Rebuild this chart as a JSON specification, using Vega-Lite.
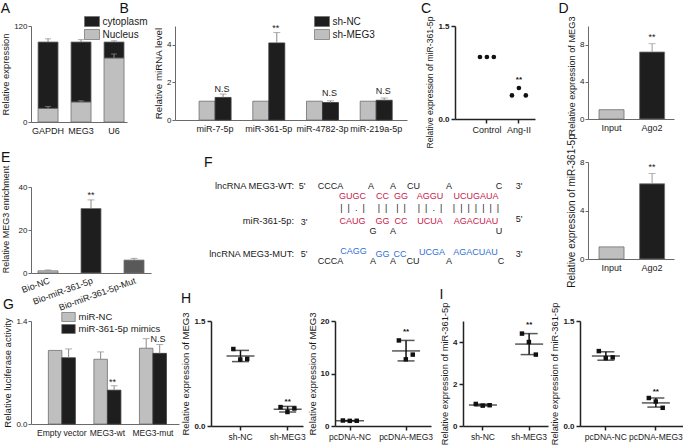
{
"$schema": "https://vega.github.io/schema/vega-lite/v6.json",
"padding": {"left": 0, "top": 2, "right": 0, "bottom": 0},
"config": {
 "font": "Liberation Sans",
 "view": {"stroke": null},
 "axis": {"grid": false, "domainColor": "#6a6a6a", "tickColor": "#6a6a6a", "labelColor": "#1a1a1a", "titleColor": "#1a1a1a", "labelFontSize": 8, "titleFontSize": 10, "titleFontWeight": "normal", "tickSize": 3, "labelPadding": 1, "titlePadding": 3, "labelOverlap": false, "labelFlush": false},
 "axisX": {"labelAngle": 0, "labelFontSize": 9},
 "title": {"anchor": "start", "fontSize": 14, "fontWeight": "normal", "color": "#111111", "frame": "bounds", "offset": 0},
 "legend": {"labelFontSize": 10, "labelColor": "#1a1a1a", "rowPadding": 0, "labelOffset": 5, "symbolStrokeColor": "#6e6e6e", "symbolStrokeWidth": 0.7, "padding": 0, "symbolType": "M-1.5,-1H1.5V1H-1.5Z", "symbolSize": 100}
},
"resolve": {"scale": {"color": "independent"}, "legend": {"color": "independent"}},
"vconcat": [
 {
  "resolve": {"scale": {"color": "independent"}, "legend": {"color": "independent"}},
  "hconcat": [
   {
    "resolve": {"scale": {"color": "independent"}, "legend": {"color": "independent"}},
    "vconcat": [
     {
      "bounds": "flush",
      "spacing": 48,
      "resolve": {"scale": {"color": "independent"}, "legend": {"color": "independent"}},
      "hconcat": [
       {
        "title": {"text": "A", "offset": 0},
        "width": 96, "height": 96,
        "layer": [
         {
          "data": {"values": [
           {"g": "GAPDH", "part": "Nucleus", "lo": 0, "hi": 17},
           {"g": "GAPDH", "part": "cytoplasm", "lo": 17, "hi": 100},
           {"g": "MEG3", "part": "Nucleus", "lo": 0, "hi": 25},
           {"g": "MEG3", "part": "cytoplasm", "lo": 25, "hi": 100},
           {"g": "U6", "part": "Nucleus", "lo": 0, "hi": 80},
           {"g": "U6", "part": "cytoplasm", "lo": 80, "hi": 100}
          ]},
          "mark": {"type": "bar", "width": 20, "stroke": "#6e6e6e", "strokeWidth": 0.8},
          "encoding": {
           "x": {"field": "g", "type": "nominal", "sort": ["GAPDH", "MEG3", "U6"], "scale": {"paddingInner": 0.4, "paddingOuter": 0.155, "align": 0.7}, "axis": {"title": null, "ticks": false, "labelPadding": 4, "labelOverlap": false}},
           "y": {"field": "lo", "type": "quantitative", "scale": {"domain": [0, 120], "nice": false}, "axis": {"title": "Relative expression", "titleFontSize": 9.4, "values": [0, 20, 40, 60, 80, 100, 120], "labelOverlap": false}},
           "y2": {"field": "hi"},
           "color": {"field": "part", "type": "nominal", "scale": {"domain": ["cytoplasm", "Nucleus"], "range": ["#1e1e1e", "#bfbfbf"]}, "legend": {"title": null, "orient": "none", "legendX": 55.5, "legendY": -10}}
          }
         },
         {
          "data": {"values": [
           {"g": "GAPDH", "v": 100, "e": 104}, {"g": "GAPDH", "v": 17, "e": 19.5},
           {"g": "MEG3", "v": 100, "e": 103}, {"g": "MEG3", "v": 25, "e": 26.5},
           {"g": "U6", "v": 100, "e": 101.5}, {"g": "U6", "v": 80, "e": 85}
          ]},
          "layer": [
           {"mark": {"type": "rule", "color": "#8a8a8a"}, "encoding": {"x": {"field": "g", "type": "nominal", "sort": ["GAPDH", "MEG3", "U6"]}, "y": {"field": "v", "type": "quantitative"}, "y2": {"field": "e"}}},
           {"mark": {"type": "tick", "color": "#8a8a8a", "size": 6, "thickness": 1}, "encoding": {"x": {"field": "g", "type": "nominal", "sort": ["GAPDH", "MEG3", "U6"]}, "y": {"field": "e", "type": "quantitative"}}}
          ]
         }
        ]
       },
       {
        "title": {"text": "B", "dx": -34, "offset": 0},
        "width": 232, "height": 94,
        "layer": [
         {
          "data": {"values": [
           {"m": "miR-7-5p", "grp": "sh-MEG3", "v": 1},
           {"m": "miR-361-5p", "grp": "sh-MEG3", "v": 1},
           {"m": "miR-4782-3p", "grp": "sh-MEG3", "v": 1},
           {"m": "miR-219a-5p", "grp": "sh-MEG3", "v": 1}
          ]},
          "mark": {"type": "bar", "width": 16, "xOffset": -8, "stroke": "#6e6e6e", "strokeWidth": 0.8},
          "encoding": {
           "x": {"field": "m", "type": "nominal", "sort": ["miR-7-5p", "miR-361-5p", "miR-4782-3p", "miR-219a-5p"], "scale": {"paddingInner": 0.4, "paddingOuter": 0.36, "align": 0.62}, "axis": {"title": null, "ticks": false, "labelPadding": 4, "labelOverlap": false}},
           "y": {"field": "v", "type": "quantitative", "scale": {"domain": [0, 5], "nice": false}, "axis": {"title": "Relative miRNA level", "titleFontSize": 9.8, "values": [0, 1, 2, 3, 4, 5], "labelOverlap": false}},
           "color": {"field": "grp", "type": "nominal", "scale": {"domain": ["sh-NC", "sh-MEG3"], "range": ["#1e1e1e", "#bfbfbf"]}, "legend": {"title": null, "orient": "none", "legendX": 141.5, "legendY": -10}}
          }
         },
         {
          "data": {"values": [
           {"m": "miR-7-5p", "grp": "sh-NC", "v": 1.2},
           {"m": "miR-361-5p", "grp": "sh-NC", "v": 4.1},
           {"m": "miR-4782-3p", "grp": "sh-NC", "v": 0.93},
           {"m": "miR-219a-5p", "grp": "sh-NC", "v": 1.05}
          ]},
          "mark": {"type": "bar", "width": 16, "xOffset": 8, "stroke": "#3a3a3a", "strokeWidth": 0.8},
          "encoding": {
           "x": {"field": "m", "type": "nominal", "sort": ["miR-7-5p", "miR-361-5p", "miR-4782-3p", "miR-219a-5p"]},
           "y": {"field": "v", "type": "quantitative"},
           "color": {"field": "grp", "type": "nominal"}
          }
         },
         {
          "data": {"values": [
           {"m": "miR-7-5p", "v": 1.2, "e": 1.38},
           {"m": "miR-361-5p", "v": 4.1, "e": 4.65},
           {"m": "miR-4782-3p", "v": 0.93, "e": 1.02},
           {"m": "miR-219a-5p", "v": 1.05, "e": 1.17}
          ]},
          "layer": [
           {"mark": {"type": "rule", "color": "#8a8a8a", "xOffset": 8}, "encoding": {"x": {"field": "m", "type": "nominal", "sort": ["miR-7-5p", "miR-361-5p", "miR-4782-3p", "miR-219a-5p"]}, "y": {"field": "v", "type": "quantitative"}, "y2": {"field": "e"}}},
           {"mark": {"type": "tick", "color": "#8a8a8a", "size": 7, "thickness": 1, "xOffset": 8}, "encoding": {"x": {"field": "m", "type": "nominal", "sort": ["miR-7-5p", "miR-361-5p", "miR-4782-3p", "miR-219a-5p"]}, "y": {"field": "e", "type": "quantitative"}}}
          ]
         },
         {
          "data": {"values": [
           {"m": "miR-7-5p", "y": 1.65, "t": "N.S"},
           {"m": "miR-361-5p", "y": 4.9, "t": "**"},
           {"m": "miR-4782-3p", "y": 1.42, "t": "N.S"},
           {"m": "miR-219a-5p", "y": 1.55, "t": "N.S"}
          ]},
          "mark": {"type": "text", "fontSize": 9, "color": "#1a1a1a", "xOffset": 7},
          "encoding": {"x": {"field": "m", "type": "nominal", "sort": ["miR-7-5p", "miR-361-5p", "miR-4782-3p", "miR-219a-5p"]}, "y": {"field": "y", "type": "quantitative"}, "text": {"field": "t"}}
         }
        ]
       },
       {
        "title": {"text": "C", "dx": -5, "offset": 0},
        "width": 80, "height": 93,
        "layer": [
         {
          "data": {"values": [
           {"g": "Control", "r": "1", "v": 1}, {"g": "Control", "r": "2", "v": 1}, {"g": "Control", "r": "3", "v": 1},
           {"g": "Ang-II", "r": "1", "v": 0.38}, {"g": "Ang-II", "r": "2", "v": 0.5}, {"g": "Ang-II", "r": "3", "v": 0.38}
          ]},
          "mark": {"type": "point", "filled": true, "size": 22, "color": "#111111", "opacity": 1},
          "encoding": {
           "x": {"field": "g", "type": "nominal", "sort": ["Control", "Ang-II"], "scale": {"paddingInner": 0.35, "paddingOuter": 0.425, "align": 0.79}, "axis": {"title": null, "ticks": true, "tickSize": 4, "tickWidth": 1.5, "domainWidth": 1.5, "domainColor": "#222222", "tickColor": "#222222", "labelPadding": 2, "labelFontSize": 9, "labelOverlap": false}},
           "xOffset": {"field": "r", "type": "nominal"},
           "y": {"field": "v", "type": "quantitative", "scale": {"domain": [0, 1.5], "nice": false}, "axis": {"title": "Relative expression of miR-361-5p", "titleFontSize": 8.6, "titleY": 56, "values": [0, 0.5, 1, 1.5], "format": ".1f", "labelFontWeight": "bold", "domainWidth": 1.5, "tickWidth": 1.5, "tickSize": 4, "domainColor": "#222222", "tickColor": "#222222", "labelPadding": 2, "labelOverlap": false}}
          }
         },
         {
          "data": {"values": [{"g": "Ang-II", "y": 0.63, "t": "**"}]},
          "mark": {"type": "text", "fontSize": 8, "fontWeight": "bold", "color": "#111111"},
          "encoding": {"x": {"field": "g", "type": "nominal", "sort": ["Control", "Ang-II"]}, "y": {"field": "y", "type": "quantitative"}, "text": {"field": "t"}}
         }
        ]
       }
      ]
     },
     {
      "bounds": "flush",
      "spacing": 50,
      "resolve": {"scale": {"color": "independent"}, "legend": {"color": "independent"}},
      "hconcat": [
       {
        "title": {"text": "E", "offset": 0},
        "width": 120, "height": 86,
        "layer": [
         {
          "data": {"values": [
           {"g": "Bio-NC", "v": 1}, {"g": "Bio-miR-361-5p", "v": 30}, {"g": "Bio-miR-361-5p-Mut", "v": 6}
          ]},
          "mark": {"type": "bar", "width": 20, "stroke": "#6e6e6e", "strokeWidth": 0.8},
          "encoding": {
           "x": {"field": "g", "type": "nominal", "sort": ["Bio-NC", "Bio-miR-361-5p", "Bio-miR-361-5p-Mut"], "scale": {"paddingInner": 0.53, "paddingOuter": 0.16, "align": 0.5}, "axis": {"title": null, "ticks": false, "labelAngle": -20, "labelPadding": 3, "labelOverlap": false}},
           "y": {"field": "v", "type": "quantitative", "scale": {"domain": [0, 40], "nice": false}, "axis": {"title": "Relative MEG3 enrichment", "titleFontSize": 9, "titleY": 32, "titlePadding": 8, "values": [0, 10, 20, 30, 40], "labelOverlap": false}},
           "color": {"field": "g", "type": "nominal", "scale": {"domain": ["Bio-NC", "Bio-miR-361-5p", "Bio-miR-361-5p-Mut"], "range": ["#bfbfbf", "#1e1e1e", "#595959"]}, "legend": null}
          }
         },
         {
          "data": {"values": [
           {"g": "Bio-NC", "v": 1, "e": 1.4}, {"g": "Bio-miR-361-5p", "v": 30, "e": 34}, {"g": "Bio-miR-361-5p-Mut", "v": 6, "e": 6.8}
          ]},
          "layer": [
           {"mark": {"type": "rule", "color": "#8a8a8a"}, "encoding": {"x": {"field": "g", "type": "nominal", "sort": ["Bio-NC", "Bio-miR-361-5p", "Bio-miR-361-5p-Mut"]}, "y": {"field": "v", "type": "quantitative"}, "y2": {"field": "e"}}},
           {"mark": {"type": "tick", "color": "#8a8a8a", "size": 7, "thickness": 1}, "encoding": {"x": {"field": "g", "type": "nominal", "sort": ["Bio-NC", "Bio-miR-361-5p", "Bio-miR-361-5p-Mut"]}, "y": {"field": "e", "type": "quantitative"}}}
          ]
         },
         {
          "data": {"values": [{"g": "Bio-miR-361-5p", "y": 36.5, "t": "**"}]},
          "mark": {"type": "text", "fontSize": 9, "color": "#1a1a1a"},
          "encoding": {"x": {"field": "g", "type": "nominal", "sort": ["Bio-NC", "Bio-miR-361-5p", "Bio-miR-361-5p-Mut"]}, "y": {"field": "y", "type": "quantitative"}, "text": {"field": "t"}}
         }
        ]
       },
       {
        "title": {"text": "F", "frame": "group", "dx": 3, "offset": 12},
        "width": 330, "height": 86,
        "layer": [
         {
          "data": {"values": [
           {"t": "lncRNA MEG3-WT:", "x": 93, "y": 9},
           {"t": "miR-361-5p:", "x": 93, "y": 44},
           {"t": "lncRNA MEG3-MUT:", "x": 93, "y": 77}
          ]},
          "mark": {"type": "text", "align": "right", "baseline": "middle", "fontSize": 9.3, "color": "#1a1a1a"},
          "encoding": {
           "x": {"field": "x", "type": "quantitative", "scale": {"domain": [0, 330], "nice": false, "zero": false}, "axis": null},
           "y": {"field": "y", "type": "quantitative", "scale": {"domain": [10, 96], "nice": false, "zero": false, "reverse": true}, "axis": null},
           "text": {"field": "t"}
          }
         },
         {
          "data": {"values": [
           {"t": "5'", "x": 101, "y": 9, "c": "k"},
           {"t": "CCCA", "x": 129.5, "y": 9, "c": "k"},
           {"t": "A", "x": 170, "y": 9, "c": "k"},
           {"t": "A", "x": 192, "y": 9, "c": "k"},
           {"t": "CU", "x": 212.5, "y": 9, "c": "k"},
           {"t": "A", "x": 248, "y": 9, "c": "k"},
           {"t": "C", "x": 298, "y": 9, "c": "k"},
           {"t": "3'", "x": 318, "y": 9, "c": "k"},
           {"t": "GUGC", "x": 151.5, "y": 19, "c": "r"},
           {"t": "CC", "x": 181.5, "y": 19, "c": "r"},
           {"t": "GG", "x": 200, "y": 19, "c": "r"},
           {"t": "AGGU", "x": 229, "y": 19, "c": "r"},
           {"t": "UCUGAUA", "x": 275, "y": 19, "c": "r"},
           {"t": "|\u00a0\u00a0|\u00a0\u00a0.\u00a0\u00a0|", "x": 151.5, "y": 31, "c": "k"},
           {"t": "|\u00a0\u00a0|", "x": 181.5, "y": 31, "c": "k"},
           {"t": "|\u00a0\u00a0|", "x": 200, "y": 31, "c": "k"},
           {"t": "|\u00a0\u00a0|\u00a0\u00a0.\u00a0\u00a0|", "x": 229, "y": 31, "c": "k"},
           {"t": "|\u00a0\u00a0|\u00a0\u00a0|\u00a0\u00a0|\u00a0\u00a0|\u00a0\u00a0|\u00a0\u00a0|", "x": 275, "y": 31, "c": "k"},
           {"t": "3'", "x": 103, "y": 45, "c": "k"},
           {"t": "CAUG", "x": 151.5, "y": 44, "c": "r"},
           {"t": "GG", "x": 181.5, "y": 44, "c": "r"},
           {"t": "CC", "x": 200, "y": 44, "c": "r"},
           {"t": "UCUA", "x": 229, "y": 44, "c": "r"},
           {"t": "AGACUAU", "x": 275, "y": 44, "c": "r"},
           {"t": "5'", "x": 318, "y": 42, "c": "k"},
           {"t": "G", "x": 172, "y": 54, "c": "k"},
           {"t": "A", "x": 192, "y": 54, "c": "k"},
           {"t": "U", "x": 298, "y": 54, "c": "k"},
           {"t": "5'", "x": 103, "y": 77, "c": "k"},
           {"t": "CAGG", "x": 152.5, "y": 74, "c": "b"},
           {"t": "GG", "x": 181.5, "y": 77, "c": "b"},
           {"t": "CC", "x": 199, "y": 77, "c": "b"},
           {"t": "UCGA", "x": 231, "y": 75, "c": "b"},
           {"t": "AGACUAU", "x": 274.5, "y": 75, "c": "b"},
           {"t": "3'", "x": 318, "y": 77, "c": "k"},
           {"t": "CCCA", "x": 129.5, "y": 84, "c": "k"},
           {"t": "A", "x": 172, "y": 84, "c": "k"},
           {"t": "A", "x": 192, "y": 84, "c": "k"},
           {"t": "CU", "x": 212, "y": 84, "c": "k"},
           {"t": "A", "x": 248, "y": 84, "c": "k"},
           {"t": "C", "x": 300, "y": 84, "c": "k"}
          ]},
          "mark": {"type": "text", "align": "center", "baseline": "middle", "fontSize": 9},
          "encoding": {
           "x": {"field": "x", "type": "quantitative", "scale": {"domain": [0, 330], "nice": false, "zero": false}, "axis": null},
           "y": {"field": "y", "type": "quantitative", "scale": {"domain": [10, 96], "nice": false, "zero": false, "reverse": true}, "axis": null},
           "text": {"field": "t"},
           "color": {"field": "c", "type": "nominal", "scale": {"domain": ["k", "r", "b"], "range": ["#1a1a1a", "#c8194b", "#2f6fd6"]}, "legend": null}
          }
         }
        ]
       }
      ]
     }
    ],
    "spacing": 3
   },
   {
    "bounds": "flush",
    "spacing": 43,
    "resolve": {"scale": {"color": "independent"}, "legend": {"color": "independent"}},
    "vconcat": [
     {
      "title": {"text": "D", "dx": -9, "offset": 0},
      "width": 86, "height": 93,
      "layer": [
       {
        "data": {"values": [{"g": "Input", "v": 1}, {"g": "Ago2", "v": 7.2}]},
        "mark": {"type": "bar", "width": 25, "stroke": "#6e6e6e", "strokeWidth": 0.8},
        "encoding": {
         "x": {"field": "g", "type": "nominal", "sort": ["Input", "Ago2"], "scale": {"paddingInner": 0.38, "paddingOuter": 0.25, "align": 0.54}, "axis": {"title": null, "ticks": false, "labelPadding": 4, "labelOverlap": false}},
         "y": {"field": "v", "type": "quantitative", "scale": {"domain": [0, 10], "nice": false}, "axis": {"title": "Relative expression of MEG3", "titleFontSize": 9.2, "titleY": 49.5, "values": [0, 2, 4, 6, 8, 10], "labelOverlap": false}},
         "color": {"field": "g", "type": "nominal", "scale": {"domain": ["Input", "Ago2"], "range": ["#bfbfbf", "#1e1e1e"]}, "legend": null}
        }
       },
       {
        "data": {"values": [{"g": "Ago2", "v": 7.2, "e": 8.1}]},
        "layer": [
         {"mark": {"type": "rule", "color": "#9a9a9a"}, "encoding": {"x": {"field": "g", "type": "nominal", "sort": ["Input", "Ago2"]}, "y": {"field": "v", "type": "quantitative"}, "y2": {"field": "e"}}},
         {"mark": {"type": "tick", "color": "#9a9a9a", "size": 7, "thickness": 1}, "encoding": {"x": {"field": "g", "type": "nominal", "sort": ["Input", "Ago2"]}, "y": {"field": "e", "type": "quantitative"}}}
        ]
       },
       {
        "data": {"values": [{"g": "Ago2", "y": 8.8, "t": "**"}]},
        "mark": {"type": "text", "fontSize": 9, "color": "#1a1a1a"},
        "encoding": {"x": {"field": "g", "type": "nominal", "sort": ["Input", "Ago2"]}, "y": {"field": "y", "type": "quantitative"}, "text": {"field": "t"}}
       }
      ]
     },
     {
      "width": 86, "height": 97,
      "layer": [
       {
        "data": {"values": [{"g": "Input", "v": 1}, {"g": "Ago2", "v": 6.2}]},
        "mark": {"type": "bar", "width": 25, "stroke": "#6e6e6e", "strokeWidth": 0.8},
        "encoding": {
         "x": {"field": "g", "type": "nominal", "sort": ["Input", "Ago2"], "scale": {"paddingInner": 0.38, "paddingOuter": 0.25, "align": 0.54}, "axis": {"title": null, "ticks": false, "labelPadding": 4, "labelOverlap": false}},
         "y": {"field": "v", "type": "quantitative", "scale": {"domain": [0, 8], "nice": false}, "axis": {"title": "Relative expression of miR-361-5p", "titleFontSize": 10, "values": [0, 2, 4, 6, 8], "labelOverlap": false}},
         "color": {"field": "g", "type": "nominal", "scale": {"domain": ["Input", "Ago2"], "range": ["#bfbfbf", "#1e1e1e"]}, "legend": null}
        }
       },
       {
        "data": {"values": [{"g": "Ago2", "v": 6.2, "e": 7.05}]},
        "layer": [
         {"mark": {"type": "rule", "color": "#9a9a9a"}, "encoding": {"x": {"field": "g", "type": "nominal", "sort": ["Input", "Ago2"]}, "y": {"field": "v", "type": "quantitative"}, "y2": {"field": "e"}}},
         {"mark": {"type": "tick", "color": "#9a9a9a", "size": 7, "thickness": 1}, "encoding": {"x": {"field": "g", "type": "nominal", "sort": ["Input", "Ago2"]}, "y": {"field": "e", "type": "quantitative"}}}
        ]
       },
       {
        "data": {"values": [{"g": "Ago2", "y": 7.6, "t": "**"}]},
        "mark": {"type": "text", "fontSize": 9, "color": "#1a1a1a"},
        "encoding": {"x": {"field": "g", "type": "nominal", "sort": ["Input", "Ago2"]}, "y": {"field": "y", "type": "quantitative"}, "text": {"field": "t"}}
       }
      ]
     }
    ]
   }
  ],
  "spacing": 23
 },
 {
  "bounds": "flush",
  "spacing": 32,
  "resolve": {"scale": {"color": "independent"}, "legend": {"color": "independent"}},
  "hconcat": [
   {
    "title": {"text": "G", "offset": 0},
    "width": 148, "height": 103,
    "layer": [
     {
      "data": {"values": [
       {"c": "Empty vector", "grp": "miR-NC", "v": 1.0},
       {"c": "MEG3-wt", "grp": "miR-NC", "v": 0.88},
       {"c": "MEG3-mut", "grp": "miR-NC", "v": 1.03}
      ]},
      "mark": {"type": "bar", "width": 13.5, "xOffset": -6.75, "stroke": "#6e6e6e", "strokeWidth": 0.8},
      "encoding": {
       "x": {"field": "c", "type": "nominal", "sort": ["Empty vector", "MEG3-wt", "MEG3-mut"], "scale": {"paddingInner": 0.41, "paddingOuter": 0.33, "align": 0.58}, "axis": {"title": null, "ticks": false, "labelPadding": 4, "labelFontSize": 8.5, "labelOverlap": false}},
       "y": {"field": "v", "type": "quantitative", "scale": {"domain": [0, 1.4], "nice": false}, "axis": {"title": "Relative luciferase activity", "titleFontSize": 9.5, "values": [0, 0.2, 0.4, 0.6, 0.8, 1, 1.2, 1.4], "format": ".1f", "labelOverlap": false}},
       "color": {"field": "grp", "type": "nominal", "scale": {"domain": ["miR-NC", "miR-361-5p mimics"], "range": ["#bfbfbf", "#1e1e1e"]}, "legend": {"title": null, "orient": "none", "legendX": 32.5, "legendY": -9, "symbolSize": 81, "labelFontSize": 9.5}}
      }
     },
     {
      "data": {"values": [
       {"c": "Empty vector", "grp": "miR-361-5p mimics", "v": 0.9},
       {"c": "MEG3-wt", "grp": "miR-361-5p mimics", "v": 0.46},
       {"c": "MEG3-mut", "grp": "miR-361-5p mimics", "v": 0.96}
      ]},
      "mark": {"type": "bar", "width": 13.5, "xOffset": 6.75, "stroke": "#3a3a3a", "strokeWidth": 0.8},
      "encoding": {
       "x": {"field": "c", "type": "nominal", "sort": ["Empty vector", "MEG3-wt", "MEG3-mut"]},
       "y": {"field": "v", "type": "quantitative"},
       "color": {"field": "grp", "type": "nominal"}
      }
     },
     {
      "data": {"values": [
       {"c": "MEG3-wt", "v": 0.88, "e": 0.98},
       {"c": "MEG3-mut", "v": 1.03, "e": 1.16}
      ]},
      "layer": [
       {"mark": {"type": "rule", "color": "#8a8a8a", "xOffset": -6.75}, "encoding": {"x": {"field": "c", "type": "nominal", "sort": ["Empty vector", "MEG3-wt", "MEG3-mut"]}, "y": {"field": "v", "type": "quantitative"}, "y2": {"field": "e"}}},
       {"mark": {"type": "tick", "color": "#8a8a8a", "size": 7, "thickness": 1, "xOffset": -6.75}, "encoding": {"x": {"field": "c", "type": "nominal", "sort": ["Empty vector", "MEG3-wt", "MEG3-mut"]}, "y": {"field": "e", "type": "quantitative"}}}
      ]
     },
     {
      "data": {"values": [
       {"c": "Empty vector", "v": 0.9, "e": 1.02},
       {"c": "MEG3-wt", "v": 0.46, "e": 0.52},
       {"c": "MEG3-mut", "v": 0.96, "e": 1.08}
      ]},
      "layer": [
       {"mark": {"type": "rule", "color": "#8a8a8a", "xOffset": 6.75}, "encoding": {"x": {"field": "c", "type": "nominal", "sort": ["Empty vector", "MEG3-wt", "MEG3-mut"]}, "y": {"field": "v", "type": "quantitative"}, "y2": {"field": "e"}}},
       {"mark": {"type": "tick", "color": "#8a8a8a", "size": 7, "thickness": 1, "xOffset": 6.75}, "encoding": {"x": {"field": "c", "type": "nominal", "sort": ["Empty vector", "MEG3-wt", "MEG3-mut"]}, "y": {"field": "e", "type": "quantitative"}}}
      ]
     },
     {
      "data": {"values": [
       {"c": "MEG3-wt", "y": 0.57, "t": "**"},
       {"c": "MEG3-mut", "y": 1.16, "t": "N.S"}
      ]},
      "mark": {"type": "text", "fontSize": 9, "color": "#1a1a1a", "xOffset": 5},
      "encoding": {"x": {"field": "c", "type": "nominal", "sort": ["Empty vector", "MEG3-wt", "MEG3-mut"]}, "y": {"field": "y", "type": "quantitative"}, "text": {"field": "t"}}
     }
    ]
   },
   {
    "title": {"text": "H", "dx": 0, "offset": 6},
    "width": 92, "height": 105,
    "layer": [
     {
      "data": {"values": [
       {"g": "sh-NC", "r": "1", "v": 1.1}, {"g": "sh-NC", "r": "2", "v": 0.95}, {"g": "sh-NC", "r": "3", "v": 0.96},
       {"g": "sh-MEG3", "r": "1", "v": 0.27}, {"g": "sh-MEG3", "r": "2", "v": 0.2}, {"g": "sh-MEG3", "r": "3", "v": 0.25}
      ]},
      "mark": {"type": "point", "shape": "square", "filled": true, "size": 20, "color": "#111111", "opacity": 1},
      "encoding": {
       "x": {"field": "g", "type": "nominal", "sort": ["sh-NC", "sh-MEG3"], "scale": {"paddingInner": 0.55, "paddingOuter": 0.25, "align": 0.8}, "axis": {"title": null, "ticks": true, "tickSize": 4, "tickWidth": 1.5, "domainWidth": 1.5, "domainColor": "#222222", "tickColor": "#222222", "labelPadding": 2, "labelFontSize": 8.5, "labelOverlap": false}},
       "xOffset": {"field": "r", "type": "nominal"},
       "y": {"field": "v", "type": "quantitative", "scale": {"domain": [0, 1.5], "nice": false}, "axis": {"title": "Relative expression of MEG3", "titleFontSize": 9.5, "values": [0, 0.5, 1, 1.5], "format": ".1f", "labelFontWeight": "bold", "domainWidth": 1.5, "tickWidth": 1.5, "tickSize": 4, "domainColor": "#222222", "tickColor": "#222222", "labelPadding": 2, "labelOverlap": false}}
      }
     },
     {
      "data": {"values": [{"g": "sh-NC", "m": 1.0, "lo": 0.92, "hi": 1.08}, {"g": "sh-MEG3", "m": 0.24, "lo": 0.2, "hi": 0.28}]},
      "layer": [
       {"mark": {"type": "rule", "color": "#111111", "strokeWidth": 1.5}, "encoding": {"x": {"field": "g", "type": "nominal", "sort": ["sh-NC", "sh-MEG3"]}, "y": {"field": "lo", "type": "quantitative"}, "y2": {"field": "hi"}}},
       {"mark": {"type": "tick", "color": "#111111", "size": 28, "thickness": 1.5}, "encoding": {"x": {"field": "g", "type": "nominal", "sort": ["sh-NC", "sh-MEG3"]}, "y": {"field": "m", "type": "quantitative"}}},
       {"mark": {"type": "tick", "color": "#111111", "size": 17, "thickness": 1.5}, "encoding": {"x": {"field": "g", "type": "nominal", "sort": ["sh-NC", "sh-MEG3"]}, "y": {"field": "lo", "type": "quantitative"}}},
       {"mark": {"type": "tick", "color": "#111111", "size": 17, "thickness": 1.5}, "encoding": {"x": {"field": "g", "type": "nominal", "sort": ["sh-NC", "sh-MEG3"]}, "y": {"field": "hi", "type": "quantitative"}}}
      ]
     },
     {
      "data": {"values": [{"g": "sh-MEG3", "y": 0.34, "t": "**"}]},
      "mark": {"type": "text", "fontSize": 8, "fontWeight": "bold", "color": "#111111"},
      "encoding": {"x": {"field": "g", "type": "nominal", "sort": ["sh-NC", "sh-MEG3"]}, "y": {"field": "y", "type": "quantitative"}, "text": {"field": "t"}}
     }
    ]
   },
   {
    "width": 96, "height": 105,
    "layer": [
     {
      "data": {"values": [
       {"g": "pcDNA-NC", "r": "1", "v": 1.05}, {"g": "pcDNA-NC", "r": "2", "v": 0.98}, {"g": "pcDNA-NC", "r": "3", "v": 1.0},
       {"g": "pcDNA-MEG3", "r": "1", "v": 16.3}, {"g": "pcDNA-MEG3", "r": "2", "v": 12.7}, {"g": "pcDNA-MEG3", "r": "3", "v": 13.6}
      ]},
      "mark": {"type": "point", "shape": "square", "filled": true, "size": 20, "color": "#111111", "opacity": 1},
      "encoding": {
       "x": {"field": "g", "type": "nominal", "sort": ["pcDNA-NC", "pcDNA-MEG3"], "scale": {"paddingInner": 0.62, "paddingOuter": 0.167, "align": 0.235}, "axis": {"title": null, "ticks": true, "tickSize": 4, "tickWidth": 1.5, "domainWidth": 1.5, "domainColor": "#222222", "tickColor": "#222222", "labelPadding": 2, "labelFontSize": 8.5, "labelOverlap": false}},
       "xOffset": {"field": "r", "type": "nominal"},
       "y": {"field": "v", "type": "quantitative", "scale": {"domain": [0, 20], "nice": false}, "axis": {"title": "Relative expression of MEG3", "titleFontSize": 9.5, "values": [0, 5, 10, 15, 20], "format": "d", "labelFontWeight": "bold", "domainWidth": 1.5, "tickWidth": 1.5, "tickSize": 4, "domainColor": "#222222", "tickColor": "#222222", "labelPadding": 2, "labelOverlap": false}}
      }
     },
     {
      "data": {"values": [{"g": "pcDNA-NC", "m": 1.0, "lo": 0.96, "hi": 1.04}, {"g": "pcDNA-MEG3", "m": 14.3, "lo": 12.4, "hi": 16.3}]},
      "layer": [
       {"mark": {"type": "rule", "color": "#111111", "strokeWidth": 1.5}, "encoding": {"x": {"field": "g", "type": "nominal", "sort": ["pcDNA-NC", "pcDNA-MEG3"]}, "y": {"field": "lo", "type": "quantitative"}, "y2": {"field": "hi"}}},
       {"mark": {"type": "tick", "color": "#111111", "size": 28, "thickness": 1.5}, "encoding": {"x": {"field": "g", "type": "nominal", "sort": ["pcDNA-NC", "pcDNA-MEG3"]}, "y": {"field": "m", "type": "quantitative"}}},
       {"mark": {"type": "tick", "color": "#111111", "size": 17, "thickness": 1.5}, "encoding": {"x": {"field": "g", "type": "nominal", "sort": ["pcDNA-NC", "pcDNA-MEG3"]}, "y": {"field": "lo", "type": "quantitative"}}},
       {"mark": {"type": "tick", "color": "#111111", "size": 17, "thickness": 1.5}, "encoding": {"x": {"field": "g", "type": "nominal", "sort": ["pcDNA-NC", "pcDNA-MEG3"]}, "y": {"field": "hi", "type": "quantitative"}}}
      ]
     },
     {
      "data": {"values": [{"g": "pcDNA-MEG3", "y": 18, "t": "**"}]},
      "mark": {"type": "text", "fontSize": 8, "fontWeight": "bold", "color": "#111111"},
      "encoding": {"x": {"field": "g", "type": "nominal", "sort": ["pcDNA-NC", "pcDNA-MEG3"]}, "y": {"field": "y", "type": "quantitative"}, "text": {"field": "t"}}
     }
    ]
   },
   {
    "title": {"text": "I", "dx": -1, "offset": 0},
    "width": 85, "height": 105,
    "layer": [
     {
      "data": {"values": [
       {"g": "sh-NC", "r": "1", "v": 1.05}, {"g": "sh-NC", "r": "2", "v": 0.97}, {"g": "sh-NC", "r": "3", "v": 0.99},
       {"g": "sh-MEG3", "r": "1", "v": 4.4}, {"g": "sh-MEG3", "r": "2", "v": 4.0}, {"g": "sh-MEG3", "r": "3", "v": 3.4}
      ]},
      "mark": {"type": "point", "shape": "square", "filled": true, "size": 20, "color": "#111111", "opacity": 1},
      "encoding": {
       "x": {"field": "g", "type": "nominal", "sort": ["sh-NC", "sh-MEG3"], "scale": {"paddingInner": 0.54, "paddingOuter": 0.19, "align": 0.53}, "axis": {"title": null, "ticks": true, "tickSize": 4, "tickWidth": 1.5, "domainWidth": 1.5, "domainColor": "#222222", "tickColor": "#222222", "labelPadding": 2, "labelFontSize": 8.5, "labelOverlap": false}},
       "xOffset": {"field": "r", "type": "nominal"},
       "y": {"field": "v", "type": "quantitative", "scale": {"domain": [0, 5], "nice": false}, "axis": {"title": "Relative expression of miR-361-5p", "titleFontSize": 9.3, "values": [0, 1, 2, 3, 4, 5], "format": "d", "labelFontWeight": "bold", "domainWidth": 1.5, "tickWidth": 1.5, "tickSize": 4, "domainColor": "#222222", "tickColor": "#222222", "labelPadding": 2, "labelOverlap": false}}
      }
     },
     {
      "data": {"values": [{"g": "sh-NC", "m": 1.0, "lo": 0.96, "hi": 1.04}, {"g": "sh-MEG3", "m": 3.9, "lo": 3.4, "hi": 4.4}]},
      "layer": [
       {"mark": {"type": "rule", "color": "#111111", "strokeWidth": 1.5}, "encoding": {"x": {"field": "g", "type": "nominal", "sort": ["sh-NC", "sh-MEG3"]}, "y": {"field": "lo", "type": "quantitative"}, "y2": {"field": "hi"}}},
       {"mark": {"type": "tick", "color": "#111111", "size": 28, "thickness": 1.5}, "encoding": {"x": {"field": "g", "type": "nominal", "sort": ["sh-NC", "sh-MEG3"]}, "y": {"field": "m", "type": "quantitative"}}},
       {"mark": {"type": "tick", "color": "#111111", "size": 17, "thickness": 1.5}, "encoding": {"x": {"field": "g", "type": "nominal", "sort": ["sh-NC", "sh-MEG3"]}, "y": {"field": "lo", "type": "quantitative"}}},
       {"mark": {"type": "tick", "color": "#111111", "size": 17, "thickness": 1.5}, "encoding": {"x": {"field": "g", "type": "nominal", "sort": ["sh-NC", "sh-MEG3"]}, "y": {"field": "hi", "type": "quantitative"}}}
      ]
     },
     {
      "data": {"values": [{"g": "sh-MEG3", "y": 4.8, "t": "**"}]},
      "mark": {"type": "text", "fontSize": 8, "fontWeight": "bold", "color": "#111111"},
      "encoding": {"x": {"field": "g", "type": "nominal", "sort": ["sh-NC", "sh-MEG3"]}, "y": {"field": "y", "type": "quantitative"}, "text": {"field": "t"}}
     }
    ]
   },
   {
    "width": 103, "height": 105,
    "layer": [
     {
      "data": {"values": [
       {"g": "pcDNA-NC", "r": "1", "v": 1.07}, {"g": "pcDNA-NC", "r": "2", "v": 0.97}, {"g": "pcDNA-NC", "r": "3", "v": 0.98},
       {"g": "pcDNA-MEG3", "r": "1", "v": 0.4}, {"g": "pcDNA-MEG3", "r": "2", "v": 0.35}, {"g": "pcDNA-MEG3", "r": "3", "v": 0.26}
      ]},
      "mark": {"type": "point", "shape": "square", "filled": true, "size": 20, "color": "#111111", "opacity": 1},
      "encoding": {
       "x": {"field": "g", "type": "nominal", "sort": ["pcDNA-NC", "pcDNA-MEG3"], "scale": {"paddingInner": 0.58, "paddingOuter": 0.32, "align": 0.48}, "axis": {"title": null, "ticks": true, "tickSize": 4, "tickWidth": 1.5, "domainWidth": 1.5, "domainColor": "#222222", "tickColor": "#222222", "labelPadding": 2, "labelFontSize": 8.5, "labelOverlap": false}},
       "xOffset": {"field": "r", "type": "nominal"},
       "y": {"field": "v", "type": "quantitative", "scale": {"domain": [0, 1.5], "nice": false}, "axis": {"title": "Relative expression of miR-361-5p", "titleFontSize": 9.3, "values": [0, 0.5, 1, 1.5], "format": ".1f", "labelFontWeight": "bold", "domainWidth": 1.5, "tickWidth": 1.5, "tickSize": 4, "domainColor": "#222222", "tickColor": "#222222", "labelPadding": 2, "labelOverlap": false}}
      }
     },
     {
      "data": {"values": [{"g": "pcDNA-NC", "m": 1.0, "lo": 0.94, "hi": 1.06}, {"g": "pcDNA-MEG3", "m": 0.33, "lo": 0.27, "hi": 0.4}]},
      "layer": [
       {"mark": {"type": "rule", "color": "#111111", "strokeWidth": 1.5}, "encoding": {"x": {"field": "g", "type": "nominal", "sort": ["pcDNA-NC", "pcDNA-MEG3"]}, "y": {"field": "lo", "type": "quantitative"}, "y2": {"field": "hi"}}},
       {"mark": {"type": "tick", "color": "#111111", "size": 28, "thickness": 1.5}, "encoding": {"x": {"field": "g", "type": "nominal", "sort": ["pcDNA-NC", "pcDNA-MEG3"]}, "y": {"field": "m", "type": "quantitative"}}},
       {"mark": {"type": "tick", "color": "#111111", "size": 17, "thickness": 1.5}, "encoding": {"x": {"field": "g", "type": "nominal", "sort": ["pcDNA-NC", "pcDNA-MEG3"]}, "y": {"field": "lo", "type": "quantitative"}}},
       {"mark": {"type": "tick", "color": "#111111", "size": 17, "thickness": 1.5}, "encoding": {"x": {"field": "g", "type": "nominal", "sort": ["pcDNA-NC", "pcDNA-MEG3"]}, "y": {"field": "hi", "type": "quantitative"}}}
      ]
     },
     {
      "data": {"values": [{"g": "pcDNA-MEG3", "y": 0.49, "t": "**"}]},
      "mark": {"type": "text", "fontSize": 8, "fontWeight": "bold", "color": "#111111"},
      "encoding": {"x": {"field": "g", "type": "nominal", "sort": ["pcDNA-NC", "pcDNA-MEG3"]}, "y": {"field": "y", "type": "quantitative"}, "text": {"field": "t"}}
     }
    ]
   }
  ]
 }
],
"spacing": -25
}
